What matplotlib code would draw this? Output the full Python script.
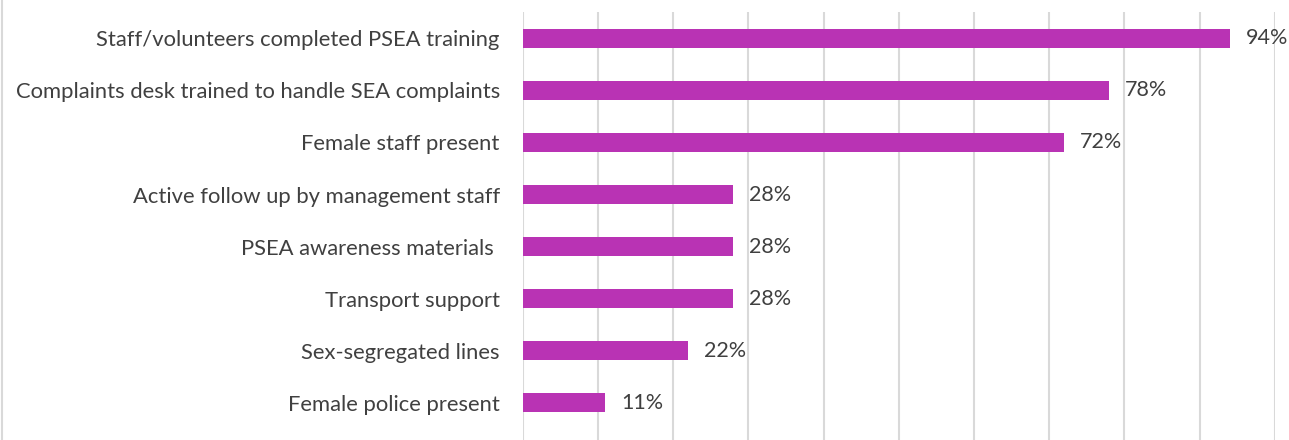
import matplotlib
matplotlib.use("Agg")
import matplotlib.pyplot as plt
from matplotlib.lines import Line2D

categories = [
    "Staff/volunteers completed PSEA training",
    "Complaints desk trained to handle SEA complaints",
    "Female staff present",
    "Active follow up by management staff",
    "PSEA awareness materials ",
    "Transport support",
    "Sex-segregated lines",
    "Female police present",
]
values = [94, 78, 72, 28, 28, 28, 22, 11]
value_labels = ["94%", "78%", "72%", "28%", "28%", "28%", "22%", "11%"]

BAR_COLOR = "#B933B4"
TEXT_COLOR = "#404040"
GRID_COLOR = "#D9D9D9"

W, H, DPI = 1289, 440, 100
fig = plt.figure(figsize=(W / DPI, H / DPI), dpi=DPI)

# axes geometry in pixels
x0, x1 = 522.7, 1274.7
top_px = 12.5
row_px = 52.0
ax = fig.add_axes([x0 / W, 0, (x1 - x0) / W, 1 - top_px / H])
n = len(categories)
ypos = list(range(n))
ax.barh(ypos, values, height=0.35, color=BAR_COLOR, zorder=3)

ax.set_xlim(0, 100)
ax.set_ylim(-0.5 + (H - top_px) / row_px, -0.5)
ax.set_xticks(range(0, 101, 10))
ax.xaxis.grid(True, color=GRID_COLOR, linewidth=1.5, zorder=0)
ax.tick_params(axis="x", length=0, labelbottom=False)
ax.tick_params(axis="y", length=0, pad=16.5)
ax.set_yticks(ypos)
ax.set_yticklabels(categories, fontsize=15.85, color=TEXT_COLOR, family="Lato")
for s in ax.spines.values():
    s.set_visible(False)

for y, v, lab in zip(ypos, values, value_labels):
    ax.annotate(lab, (v, y), xytext=(11.5, 0), textcoords="offset points",
                va="center", ha="left", fontsize=15.5, color=TEXT_COLOR,
                family="Lato")

# thin frame line on the left edge
fig.add_artist(Line2D([1.5 / W, 1.5 / W], [0, 1], transform=fig.transFigure,
                      color=GRID_COLOR, linewidth=1.5))

fig.savefig("out.png", dpi=DPI)
